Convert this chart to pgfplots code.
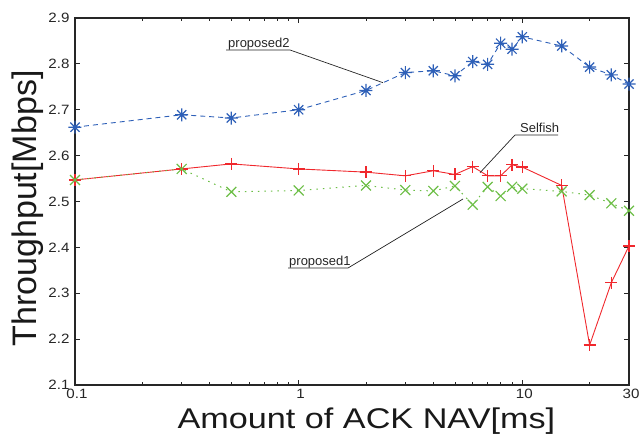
\documentclass[border=0pt]{standalone}
\usepackage{graphicx}
\usepackage{fontspec}
\setmainfont{Liberation Sans}
\usepackage{pgfplots}
\pgfplotsset{compat=1.18}
\definecolor{pblue}{RGB}{46,96,184}
\definecolor{pred}{RGB}{240,40,45}
\definecolor{pgreen}{RGB}{108,190,70}
\pgfdeclareplotmark{star8}{%
  \pgfpathmoveto{\pgfqpoint{-\pgfplotmarksize}{0pt}}\pgfpathlineto{\pgfqpoint{\pgfplotmarksize}{0pt}}%
  \pgfpathmoveto{\pgfqpoint{0pt}{-\pgfplotmarksize}}\pgfpathlineto{\pgfqpoint{0pt}{\pgfplotmarksize}}%
  \pgfpathmoveto{\pgfqpoint{-.7071\pgfplotmarksize}{-.7071\pgfplotmarksize}}\pgfpathlineto{\pgfqpoint{.7071\pgfplotmarksize}{.7071\pgfplotmarksize}}%
  \pgfpathmoveto{\pgfqpoint{-.7071\pgfplotmarksize}{.7071\pgfplotmarksize}}\pgfpathlineto{\pgfqpoint{.7071\pgfplotmarksize}{-.7071\pgfplotmarksize}}%
  \pgfusepathqstroke}
\newcommand{\sx}[1]{\scalebox{1.12}[1]{#1}}
\begin{document}
\begin{tikzpicture}
\path[use as bounding box] (-75pt,-51pt) rectangle (564pt,385pt);
\begin{axis}[
  at={(0pt,0pt)}, anchor=south west,
  scale only axis, width=554pt, height=367pt,
  xmode=log, xmin=0.1, xmax=30, ymin=2.1, ymax=2.9,
  xtick={0.1,1,10,30}, xticklabels={\sx{0.1},\sx{1},\sx{10},\sx{30}},
  minor xtick={0.2,0.3,0.4,0.5,0.6,0.7,0.8,0.9,2,3,4,5,6,7,8,9,20},
  ytick={2.1,2.2,2.3,2.4,2.5,2.6,2.7,2.8,2.9},
  yticklabels={\sx{2.1},\sx{2.2},\sx{2.3},\sx{2.4},\sx{2.5},\sx{2.6},\sx{2.7},\sx{2.8},\sx{2.9}},
  yticklabel style={xshift=-2pt},
  tick label style={font=\fontsize{13.5}{15}\selectfont, text=black!85},
  xticklabel style={yshift=-1pt, xshift=2pt},
  tick align=inside,
  major tick length=5pt, minor tick length=3pt,
  tick style={black!85, line width=0.9pt},
  axis line style={black!85, line width=1.4pt},
  xlabel={\scalebox{1.2}[1]{Amount of ACK NAV[ms]}},
  ylabel={Throughput[Mbps]},
  xlabel style={font=\fontsize{28.5}{32}\selectfont, text=black!90, at={(axis description cs:0.526,0)}, anchor=base, yshift=-43.3pt},
  ylabel style={font=\fontsize{34}{38}\selectfont, text=black!90, at={(axis description cs:0,0.481)}, anchor=south, yshift=28pt},
  clip=false,
]
\addplot[pblue, line width=0.9pt, dash pattern=on 5pt off 4pt, mark=star8, mark size=6.5pt, mark options={solid, draw=pblue, line width=1.2pt}] coordinates {
(0.1,2.662) (0.3,2.689) (0.5,2.682) (1,2.700) (2,2.742) (3,2.781) (4,2.785) (5,2.774) (6,2.805) (7,2.799) (8,2.845) (9,2.832) (10,2.859) (15,2.839) (20,2.793) (25,2.776) (30,2.756)};
\addplot[pred, line width=0.9pt, mark=+, mark size=6pt, mark options={solid, draw=pred, line width=1.35pt}] coordinates {
(0.1,2.547) (0.3,2.571) (0.5,2.582) (1,2.571) (2,2.564) (3,2.556) (4,2.567) (5,2.559) (6,2.576) (7,2.556) (8,2.556) (9,2.580) (10,2.575) (15,2.535) (20,2.187) (25,2.323) (30,2.403)};
\addplot[pgreen, line width=1pt, dash pattern=on 1.5pt off 5pt, mark=x, mark size=7pt, mark options={solid, draw=pgreen, line width=1.2pt}] coordinates {
(0.1,2.547) (0.3,2.571) (0.5,2.521) (1,2.524) (2,2.535) (3,2.525) (4,2.523) (5,2.534) (6,2.493) (7,2.532) (8,2.512) (9,2.532) (10,2.528) (15,2.522) (20,2.514) (25,2.496) (30,2.480)};
\end{axis}
\begin{scope}[font=\fontsize{13}{15}\selectfont, black!85]
\draw[line width=0.7pt] (151pt,335pt) -- (215pt,335pt) -- (308pt,302.3pt);
\node[anchor=base west, inner sep=0pt] at (153pt,337.5pt) {proposed2};
\draw[line width=0.7pt] (483pt,250pt) -- (440pt,250pt) -- (405pt,212.3pt);
\node[anchor=base west, inner sep=0pt] at (445pt,252.5pt) {Selfish};
\draw[line width=0.7pt] (213pt,117pt) -- (273pt,117pt) -- (388pt,186pt);
\node[anchor=base west, inner sep=0pt] at (214pt,119.5pt) {proposed1};
\end{scope}
\end{tikzpicture}
\end{document}
